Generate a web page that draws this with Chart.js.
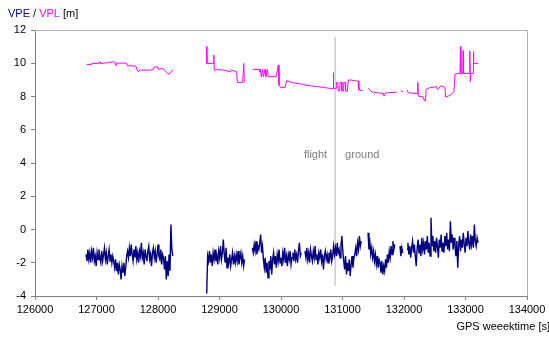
<!DOCTYPE html>
<html>
<head>
<meta charset="utf-8">
<script src="https://cdn.jsdelivr.net/npm/chart.js@4/dist/chart.umd.min.js"></script>
<style>
  html, body { margin:0; padding:0; background:#fff; }
  #wrap { width:549px; height:337px; position:relative; }
</style>
</head>
<body>
<div id="wrap"><canvas id="chart" width="549" height="337"></canvas></div>
<script>
// axis ranges
const xMin = 126000, xMax = 134000, xStep = 1000;
const yMin = -4, yMax = 12, yStep = 2;

// flight / ground switch time and the span of the marker line
const switchTime = 130880;
const switchSpan = [-3.4, 11.6];

// VPL: step-like protection level, null = gap in logging
const vplTime = [
  126840,126921,126925,127030,127040,127062,127068,127192,127263,127300,127310,127325,127330,127490,127500,
  127642,127655,127680,127700,127913,127930,127995,128005,128060,128100,128141,128180,128211,128249,128500,
  128791,128795,128900,128908,128916,128980,129062,129182,129190,129279,129290,129377,129395,129404,129470,
  129539,129647,129655,129665,129680,129700,129712,129740,129752,129780,129790,129821,129920,129957,129967,
  129990,130065,130092,130200,130250,130363,130417,130688,130823,130848,130851,130856,130895,130905,130925,
  130930,130955,130960,130985,130990,131015,131020,131045,131050,131060,131078,131094,131150,
  131187,131257,131266,131328,131375,
  131420,131474,131566,131664,131675,131690,131700,131826,131880,131920,
  131951,131989,132020,
  132054,132070,132216,132225,132233,132314,132330,132350,132360,132422,132531,132540,132560,132600,132666,
  132675,132748,132813,132829,132910,132918,132925,132955,132962,132968,133062,133070,133078,133090,133122,
  133128,133135,133208
];
const vplValue = [
  9.93,9.93,9.99,9.99,10.07,10.07,9.99,10.03,10.09,10.07,9.89,9.89,10.01,10.01,9.85,
  9.83,9.63,9.49,9.59,9.59,9.75,9.79,9.63,9.69,9.63,9.45,9.33,9.49,9.59,null,
  11.0,9.99,9.99,10.49,9.59,9.62,9.59,9.49,9.59,9.49,8.85,8.85,9.99,8.85,null,
  9.63,9.63,9.49,9.63,9.19,9.63,9.19,9.63,9.19,9.63,9.19,9.19,9.19,9.89,8.69,
  8.55,8.55,8.95,8.83,8.80,8.73,8.67,8.55,8.47,8.47,9.43,8.49,8.49,8.85,8.85,
  8.33,8.33,8.85,8.85,8.33,8.33,8.85,8.85,8.33,8.33,8.29,8.99,8.99,
  8.95,8.93,8.39,8.35,null,
  8.49,8.29,8.22,8.18,8.02,8.02,8.22,8.24,8.27,null,
  8.29,8.33,null,
  8.39,8.22,8.18,8.85,8.02,7.98,7.74,7.74,8.43,8.53,8.59,8.43,8.45,8.65,8.55,
  7.98,8.06,8.29,9.35,9.39,11.0,9.39,9.39,10.76,9.39,9.39,10.74,8.89,9.39,9.39,
  10.70,9.99,9.99
];

// VPE: noisy position error, one value every vpeStep seconds per logged block
const vpeStep = 15;
const vpeStart = [126830, 128792, 129534, 130390, 131415, 131935, 132049];
const vpeSeg1 = [
  -1.5,-1.9,-1.2,-1.8,-1.4,-2.0,-1.3,-1.7,-1.1,-1.9,-1.6,-2.2,-1.4,-1.8,-1.2,-1.7,-2.0,-1.3,-1.9,-1.5,
  -1.1,-1.8,-1.4,-2.1,-1.6,-1.2,-1.9,-1.5,-2.0,-1.6,
  -1.9,-2.3,-1.8,-2.5,-2.0,-2.7,-2.1,-2.4,-3.0,-2.2,-2.6,-2.0,-2.8,
  -2.3,-1.6,-1.3,
  -1.7,-1.1,-1.6,-0.9,-1.5,-1.9,-1.2,-1.7,-1.0,-1.8,-1.4,-2.0,-1.3,-1.6,-0.8,-1.7,-1.4,-2.1,-1.2,-1.6,
  -1.9,-1.3,-1.0,-1.8,-1.5,-2.2,-1.4,-1.1,-1.7,-1.3,-2.0,-1.5,-0.9,-1.6,-1.8,-1.2,-2.1,-1.5,-1.7,
  -2.4,-1.6,-3.0,-1.9,-2.8,-1.5,-2.5,0.3,-1.2,-1.6
];
const vpeSeg2 = [
  -3.85,-1.6,-1.9,-1.3,-2.0,-1.5,-2.2,-1.4,-1.8,-1.2,-1.9,-1.6,-2.1,-1.3,-1.7,-1.0,-1.8,-1.4,-0.6,-1.5,
  -2.0,-1.1,-2.3,-1.7,-2.0,-1.5,-2.2,-1.8,-1.4,-2.1,-1.6,-2.0,-1.5,-1.9,-1.3,-2.1,-1.7,-1.4,-2.0,-1.6,
  -2.2,-1.8
];
const vpeSeg3 = [
  -1.1,-1.4,-0.9,-1.3,-0.7,-1.5,-1.0,-1.2,-0.8,-0.3,-1.4,-1.0,
  -1.8,-2.3,-1.7,-2.6,-2.0,-2.9,-1.9,-2.4,-1.6,-2.7,
  -1.8,-1.4,-2.1,-1.6,-2.3,-1.5,-1.9,-1.2,-2.0,-1.7,-2.2,-1.4,-1.8,-1.1,-2.0,-1.6,-2.2,-1.5,-1.8,-1.3,
  -2.1,-1.7,-1.4,-1.9,-1.2,-1.8,-1.5,-2.0,-1.3,-0.8,-1.6,-1.4
];
const vpeSeg4 = [
  -1.3,-1.7,-1.1,-1.8,-1.4,-2.0,-1.2,-1.6,-1.9,-1.3,-1.7,-1.0,-1.8,-1.5,-2.1,-1.4,-1.7,-1.2,-1.9,-1.5,
  -2.4,-1.6,-1.3,-1.8,-1.5,-2.0,-1.4,-1.7,-1.2,-1.9,-1.6,
  -1.0,-1.5,-1.1,-1.6,-0.8,-1.4,-1.2,-1.7,-1.0,-0.4,-1.3,
  -1.9,-2.4,-1.6,-2.7,-2.0,-2.5,-1.8,-2.8,-2.1,-1.6,-2.3,-1.7,
  -1.5,-1.1,-1.6,-0.8,-1.2,-0.4,-1.0,-0.7
];
const vpeSeg5 = [
  -0.2,-1.2,-0.8,-1.5,-1.1,-1.7,-1.3,-1.9,-1.5,-2.1,-1.6,-2.3,-1.8,-2.0,-2.6,-1.9,-2.7,-2.2,-2.5,-1.8,
  -2.3,-1.5,-2.0,-1.3,-1.7,-1.0,-1.5,-0.7,-1.2,-0.9
];
const vpeSeg6 = [-1.0,-1.6,-1.1,-1.4];
const vpeSeg7 = [
  -1.2,-0.8,-1.5,-1.0,-1.7,-1.1,-0.7,-1.4,-0.9,-1.6,
  -2.2,-1.1,-0.6,-1.4,-0.9,-1.6,-0.5,-1.2,-0.8,-1.5,
  -0.7,-1.2,-0.4,-1.4,-0.8,-1.6,0.7,-1.0,-0.4,-1.3,
  -0.7,-1.4,-0.5,-1.0,-1.7,-0.6,-1.1,-0.3,-1.3,-0.8,
  -1.4,-0.4,-1.0,-0.2,-1.2,-0.6,-1.3,0.5,-0.8,-0.3,
  -1.2,-0.5,-1.0,-1.6,-0.7,-2.3,-0.9,-0.4,-1.3,-0.6,
  -1.1,-0.2,-0.9,-1.4,-0.5,-1.0,-0.1,-0.8,-1.2,-0.3,
  -0.9,-0.4,-1.1,0.3,-0.7,-1.0,-0.5,-0.8
];
const vpeSegs = [vpeSeg1, vpeSeg2, vpeSeg3, vpeSeg4, vpeSeg5, vpeSeg6, vpeSeg7];

const FONT = "'Liberation Sans', Arial, sans-serif";

// build point lists for the linear x axis
const vplPoints = vplTime.map((t,i)=>({x:t, y:vplValue[i]}));
const vpePoints = [];
vpeSegs.forEach((seg,k)=>{
  seg.forEach((v,i)=>vpePoints.push({x:vpeStart[k] + i*vpeStep, y:v}));
  vpePoints.push({x:vpeStart[k] + seg.length*vpeStep + 5, y:null});
});
const switchPoints = switchSpan.map(v=>({x:switchTime, y:v}));

const decor = {
  id:'decor',
  afterDraw(chart){
    const ctx = chart.ctx, a = chart.chartArea;
    const xs = chart.scales.x, ys = chart.scales.y;
    ctx.save();
    // light frame on top and right
    ctx.strokeStyle = '#b4b4b4'; ctx.lineWidth = 1;
    ctx.beginPath();
    ctx.moveTo(a.left, a.top+0.5); ctx.lineTo(a.right+0.5, a.top+0.5); ctx.lineTo(a.right+0.5, a.bottom);
    ctx.stroke();
    // axis title on top-left, two colours
    ctx.font = '11px ' + FONT; ctx.textBaseline = 'middle'; ctx.textAlign = 'left';
    let x = 8;
    [['VPE','#000080'],[' / ','#000'],['VPL','#ff00ff'],[' [m]','#000']].forEach(p=>{
      ctx.fillStyle = p[1]; ctx.fillText(p[0], x, 14); x += ctx.measureText(p[0]).width;
    });
    // x axis title
    ctx.fillStyle = '#000'; ctx.textAlign = 'right';
    ctx.fillText('GPS weeektime [s]', 550, 327);
    // flight / ground labels beside the marker
    const px = xs.getPixelForValue(switchTime), py = ys.getPixelForValue(4.5);
    ctx.fillStyle = '#808080';
    ctx.fillText('flight', px - 8, py);
    ctx.textAlign = 'left';
    ctx.fillText('ground', px + 10, py);
    ctx.restore();
  }
};

new Chart(document.getElementById('chart'), {
  type:'line',
  data:{datasets:[
    {label:'VPL', data:vplPoints, borderColor:'#ff00ff', borderWidth:1, pointRadius:0, spanGaps:false},
    {label:'VPE', data:vpePoints, borderColor:'#000080', borderWidth:1.4, pointRadius:0, spanGaps:false},
    {label:'switch', data:switchPoints, borderColor:'#cccccc', borderWidth:1.5, pointRadius:0}
  ]},
  options:{
    responsive:false, animation:false, parsing:true,
    layout:{padding:{top:30, right:22, left:0, bottom:0}},
    plugins:{legend:{display:false}, tooltip:{enabled:false}},
    elements:{line:{tension:0}},
    scales:{
      x:{type:'linear', min:xMin, max:xMax,
        afterFit(s){ s.height = 41; },
        ticks:{stepSize:xStep, color:'#000', padding:3, maxRotation:0, font:{family:FONT, size:11},
          callback:v=>String(v)},
        grid:{drawOnChartArea:false, tickLength:4, color:'#808080'},
        border:{color:'#808080', width:1}
      },
      y:{min:yMin, max:yMax,
        afterFit(s){ s.width = 35; },
        ticks:{stepSize:yStep, color:'#000', padding:5, font:{family:FONT, size:11}},
        grid:{drawOnChartArea:false, tickLength:4, color:'#808080'},
        border:{color:'#808080', width:1}
      }
    }
  },
  plugins:[decor]
});
</script>
</body>
</html>
